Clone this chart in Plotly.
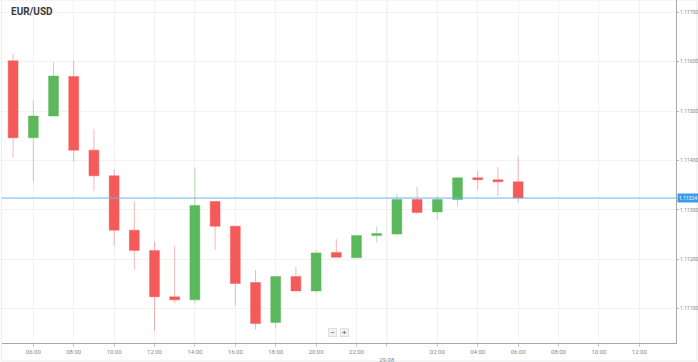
import plotly.graph_objects as go

# ---- data (hourly EUR/USD candles) ----
times = [
    "2019-08-28 05:00", "2019-08-28 06:00", "2019-08-28 07:00", "2019-08-28 08:00",
    "2019-08-28 09:00", "2019-08-28 10:00", "2019-08-28 11:00", "2019-08-28 12:00",
    "2019-08-28 13:00", "2019-08-28 14:00", "2019-08-28 15:00", "2019-08-28 16:00",
    "2019-08-28 17:00", "2019-08-28 18:00", "2019-08-28 19:00", "2019-08-28 20:00",
    "2019-08-28 21:00", "2019-08-28 22:00", "2019-08-28 23:00", "2019-08-29 00:00",
    "2019-08-29 01:00", "2019-08-29 02:00", "2019-08-29 03:00", "2019-08-29 04:00",
    "2019-08-29 05:00", "2019-08-29 06:00",
]
opens = [1.11602, 1.11446, 1.11490, 1.11570, 1.11421, 1.11369, 1.11259, 1.11218,
         1.11124, 1.11118, 1.11317, 1.11267, 1.11153, 1.11072, 1.11165, 1.11136,
         1.11214, 1.11203, 1.11248, 1.11251, 1.11321, 1.11296, 1.11321, 1.11365,
         1.11361, 1.11357]
highs = [1.11616, 1.11522, 1.11599, 1.11602, 1.11464, 1.11382, 1.11317, 1.11236,
         1.11227, 1.11386, 1.11317, 1.11267, 1.11178, 1.11166, 1.11185, 1.11219,
         1.11241, 1.11248, 1.11267, 1.11332, 1.11347, 1.11328, 1.11365, 1.11379,
         1.11387, 1.11408]
lows = [1.11406, 1.11357, 1.11490, 1.11398, 1.11338, 1.11227, 1.11180, 1.11055,
        1.11111, 1.11112, 1.11219, 1.11107, 1.11058, 1.11060, 1.11136, 1.11131,
        1.11204, 1.11203, 1.11234, 1.11248, 1.11292, 1.11280, 1.11308, 1.11340,
        1.11328, 1.11315]
closes = [1.11446, 1.11490, 1.11571, 1.11421, 1.11369, 1.11259, 1.11218, 1.11124,
          1.11118, 1.11309, 1.11267, 1.11151, 1.11070, 1.11165, 1.11136, 1.11213,
          1.11204, 1.11248, 1.11252, 1.11321, 1.11295, 1.11321, 1.11365, 1.11361,
          1.11357, 1.11324]
current_price = 1.11324

day_boundary = "2019-08-28 23:30"
x_tickvals = [
    "2019-08-28 06:00", "2019-08-28 08:00", "2019-08-28 10:00", "2019-08-28 12:00",
    "2019-08-28 14:00", "2019-08-28 16:00", "2019-08-28 18:00", "2019-08-28 20:00",
    "2019-08-28 22:00", day_boundary, "2019-08-29 02:00", "2019-08-29 04:00",
    "2019-08-29 06:00", "2019-08-29 08:00", "2019-08-29 10:00", "2019-08-29 12:00",
]
x_ticktext = ["06:00", "08:00", "10:00", "12:00", "14:00", "16:00", "18:00", "20:00",
              "22:00", "<br>29.08", "02:00", "04:00", "06:00", "08:00", "10:00", "12:00"]
y_tickvals = [1.111, 1.112, 1.113, 1.114, 1.115, 1.116, 1.117]

RED = "#f55a5a"
GREEN = "#5cb85c"

fig = go.Figure()
fig.add_trace(go.Candlestick(
    x=times, open=opens, high=highs, low=lows, close=closes,
    increasing=dict(fillcolor=GREEN, line=dict(color="rgba(92,184,92,0.45)", width=1)),
    decreasing=dict(fillcolor=RED, line=dict(color="rgba(245,90,90,0.45)", width=1)),
    showlegend=False, hoverinfo="skip",
))

# current price line
fig.add_shape(type="line", xref="paper", x0=0, x1=1, yref="y",
              y0=current_price, y1=current_price,
              line=dict(color="#6cb4ea", width=1))
# day separator
fig.add_shape(type="line", xref="x", x0=day_boundary, x1=day_boundary,
              yref="paper", y0=0, y1=1, line=dict(color="#e4e4e4", width=1), layer="below")
# outer frame
fig.add_shape(type="rect", xref="paper", yref="paper", x0=-0.001, x1=1.0308,
              y0=-0.0525, y1=1.0, line=dict(color="#ececec", width=1), layer="below")

fig.add_annotation(text="<b>EUR/USD</b>", xref="paper", yref="paper", x=0.011, y=0.966,
                   xanchor="left", yanchor="middle", showarrow=False,
                   font=dict(family="Roboto", size=10, color="#3a3a3a"))
fig.add_annotation(text=f"{current_price:.5f}", xref="paper", yref="y", x=1.0015,
                   y=current_price, xanchor="left", yanchor="middle", showarrow=False,
                   bgcolor="#3d9be9", borderpad=1,
                   font=dict(family="Roboto", size=5, color="white"))
for txt, xp in [("−", 0.4905), ("+", 0.5075)]:
    fig.add_annotation(text=txt, xref="paper", yref="paper", x=xp, y=0.03,
                       xanchor="center", yanchor="middle", showarrow=False,
                       bgcolor="#f2f2f2", bordercolor="#e0e0e0", borderwidth=1,
                       width=7, height=7, borderpad=0,
                       font=dict(family="Roboto", size=8, color="#555"))

fig.update_layout(
    width=698, height=362,
    margin=dict(l=2, r=22, t=0, b=19),
    paper_bgcolor="white", plot_bgcolor="white",
    font=dict(family="Roboto", size=6, color="#888"),
    xaxis=dict(
        type="date", range=["2019-08-28 04:27", "2019-08-29 13:49"],
        rangeslider=dict(visible=False),
        tickvals=x_tickvals, ticktext=x_ticktext,
        showgrid=True, gridcolor="#f2f2f2", gridwidth=1,
        showline=True, linecolor="#a8a8a8", linewidth=1,
        ticks="outside", ticklen=3, tickcolor="#cccccc",
        tickfont=dict(size=6, color="#888"), automargin=False, zeroline=False,
    ),
    yaxis=dict(
        side="right", range=[1.110306, 1.117249],
        tickvals=y_tickvals, tickformat=".5f",
        showgrid=True, gridcolor="#f2f2f2", gridwidth=1,
        showline=True, linecolor="#a8a8a8", linewidth=1,
        ticks="outside", ticklen=2, tickcolor="#bbbbbb",
        tickfont=dict(size=5, color="#888"), automargin=False, zeroline=False,
    ),
)

fig.write_html(
    "out.html",
    include_plotlyjs=True,
    config={"displayModeBar": False},
    post_script="document.body.style.margin='0';document.body.style.overflow='hidden';",
)
